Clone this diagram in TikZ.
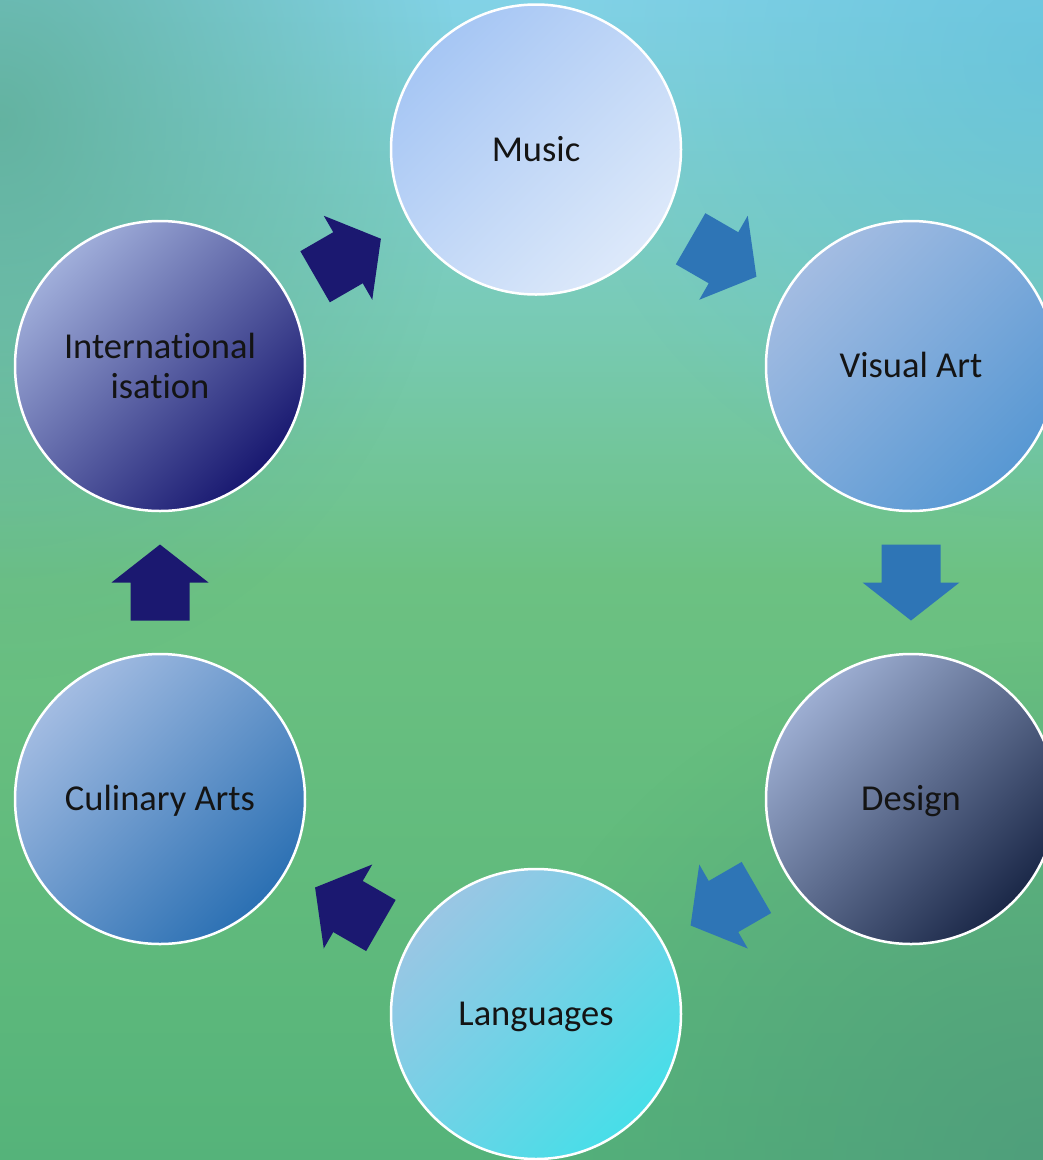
\documentclass[tikz,border=0pt]{standalone}
\usepackage{fontspec}
\setmainfont{Carlito}[Ligatures=NoCommon]
\usetikzlibrary{calc,fadings}
\definecolor{navyA}{HTML}{1B1870}
\definecolor{blueA}{HTML}{2E75B6}
\definecolor{bgtop}{HTML}{82D2E6}
\definecolor{bgupper}{HTML}{79CBB8}
\definecolor{bgmid}{HTML}{6CC182}
\definecolor{bglow}{HTML}{60BA7C}
\definecolor{bgbot}{HTML}{55B37A}
\definecolor{ovleft}{HTML}{5FAE98}
\definecolor{ovright}{HTML}{4E9A7C}
\definecolor{ovblue}{HTML}{5EBEDA}
\definecolor{musA}{HTML}{A6C6F4}\definecolor{musB}{HTML}{DDE9FA}
\definecolor{visA}{HTML}{A3BCE2}\definecolor{visB}{HTML}{5898D3}
\definecolor{desA}{HTML}{9DAED2}\definecolor{desB}{HTML}{1B2848}
\definecolor{lanA}{HTML}{9AC6E4}\definecolor{lanB}{HTML}{47DEE8}
\definecolor{culA}{HTML}{A3BCE2}\definecolor{culB}{HTML}{2B70B3}
\definecolor{intA}{HTML}{A0AEDA}\definecolor{intB}{HTML}{181870}
\pgfdeclareverticalshading{bgshade}{100bp}{color(0bp)=(bgbot); color(25bp)=(bgbot); color(36bp)=(bglow); color(50bp)=(bgmid); color(62bp)=(bgupper); color(75bp)=(bgtop); color(100bp)=(bgtop)}
\tikzfading[name=softblob, inner color=transparent!0, outer color=transparent!100]
\tikzset{
  stage/.style={circle, minimum size=290pt, inner sep=0pt, draw=white, line width=2.5pt,
    font=\fontsize{36.5}{40}\selectfont, text=black!92, align=center},
  oneline/.style={text height=30pt, text depth=6.5pt},
  grad/.style 2 args={top color=#1, bottom color=#2, shading angle=45},
  blob/.style={path fading=softblob},
  blockarrow/.pic={
    \fill[pic actions] (-38,-29.5) -- (0,-29.5) -- (0,-48.5) -- (38,0) -- (0,48.5) -- (0,29.5) -- (-38,29.5) -- cycle;
  }
}
\begin{document}
\begin{tikzpicture}[x=1pt,y=-1pt]
\useasboundingbox (0,0) rectangle (1043,1160);
% background
\shade[shading=bgshade] (0,0) rectangle (1043,1160);
\fill[ovleft, opacity=0.85, blob] (0,120) ellipse [x radius=460, y radius=560];
\fill[ovright, opacity=0.8, blob] (1043,1160) ellipse [x radius=560, y radius=520];
\fill[ovblue, opacity=0.6, blob] (1043,60) ellipse [x radius=480, y radius=460];

% stages
\node[stage, oneline, grad={musA}{musB}] (music) at (536,149.5) {Music};
\node[stage, oneline, grad={visA}{visB}] (visual) at (911,366) {Visual Art};
\node[stage, oneline, grad={desA}{desB}] (design) at (911,799) {Design};
\node[stage, oneline, grad={lanA}{lanB}] (lang) at (536,1014) {Languages};
\node[stage, oneline, grad={culA}{culB}] (culinary) at (160,799) {Culinary Arts};
\node[stage, grad={intA}{intB}] (intl) at (160,366) {International\\isation};

% connectors (block arrows)
\pic[rotate=30, fill=navyA] at ($(intl)!0.5!(music)$) {blockarrow};
\pic[rotate=-30, fill=blueA] at ($(music)!0.5!(visual)$) {blockarrow};
\pic[rotate=-90, fill=blueA] at ($(visual)!0.5!(design)$) {blockarrow};
\pic[rotate=-150, fill=blueA] at ($(design)!0.5!(lang)$) {blockarrow};
\pic[rotate=150, fill=navyA] at ($(lang)!0.5!(culinary)$) {blockarrow};
\pic[rotate=90, fill=navyA] at ($(culinary)!0.5!(intl)$) {blockarrow};
\end{tikzpicture}
\end{document}
